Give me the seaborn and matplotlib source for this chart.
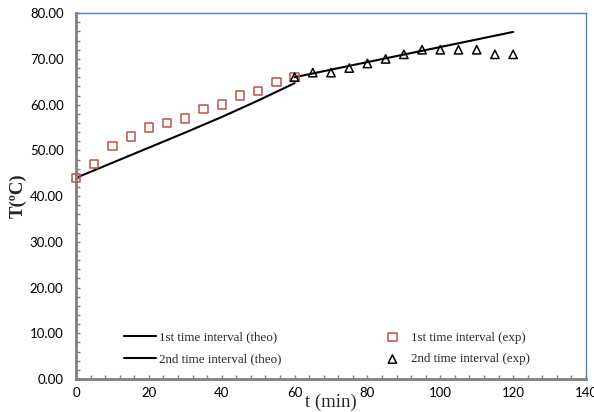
import matplotlib
matplotlib.use("Agg")
import matplotlib.pyplot as plt
import seaborn as sns
from matplotlib.ticker import MultipleLocator, FormatStrFormatter

# Experimental temperatures (°C) every 5 minutes
t_exp1 = [0, 5, 10, 15, 20, 25, 30, 35, 40, 45, 50, 55, 60]
T_exp1 = [44, 47, 51, 53, 55, 56, 57, 59, 60, 62, 63, 65, 66]
t_exp2 = [60, 65, 70, 75, 80, 85, 90, 95, 100, 105, 110, 115, 120]
T_exp2 = [66, 67, 67, 68, 69, 70, 71, 72, 72, 72, 72, 71, 71]

# Theoretical model curves
t_theo1 = [0, 10, 20, 30, 40, 50, 60]
T_theo1 = [44.0, 47.3, 50.6, 53.9, 57.3, 60.9, 64.7]
t_theo2 = [60, 80, 100, 120]
T_theo2 = [66.0, 69.3, 72.6, 75.9]

sns.set_theme(style="white")
plt.rcParams["font.family"] = ["Lato", "DejaVu Sans"]

fig = plt.figure(figsize=(5.94, 4.12), dpi=100)
ax = fig.add_axes([0.128, 0.080, 0.8585, 0.888])

sns.lineplot(x=t_theo1, y=T_theo1, ax=ax, color="black", lw=1.5,
             label="1st time interval (theo)")
sns.lineplot(x=t_theo2, y=T_theo2, ax=ax, color="black", lw=1.5,
             label="2nd time interval (theo)")
sns.scatterplot(x=t_exp1, y=T_exp1, ax=ax, marker="s", s=36,
                facecolor="none", edgecolor="#c0504d", linewidth=1.1,
                label="1st time interval (exp)", clip_on=False, zorder=3)
sns.scatterplot(x=t_exp2, y=T_exp2, ax=ax, marker="^", s=36,
                facecolor="none", edgecolor="black", linewidth=1.1,
                label="2nd time interval (exp)", clip_on=False, zorder=3)

ax.set_xlim(0, 140)
ax.set_ylim(0, 80)
ax.xaxis.set_major_locator(MultipleLocator(20))
ax.xaxis.set_minor_locator(MultipleLocator(4))
ax.yaxis.set_major_locator(MultipleLocator(10))
ax.yaxis.set_minor_locator(MultipleLocator(2))
ax.yaxis.set_major_formatter(FormatStrFormatter("%.2f"))

ax.tick_params(which="both", direction="in", color="#808080",
               bottom=True, left=True, top=False, right=False)
ax.tick_params(which="major", length=3, width=1, labelsize=9.5,
               labelcolor="black")
ax.tick_params(which="minor", length=3, width=1)
ax.tick_params(axis="y", which="major", pad=9)
ax.tick_params(axis="x", which="major", pad=6)

for side in ("left", "bottom"):
    ax.spines[side].set_color("#808080")
    ax.spines[side].set_linewidth(2)
for side in ("top", "right"):
    ax.spines[side].set_color("#4f81bd")
    ax.spines[side].set_linewidth(1)

ax.set_xlabel("t (min)", family="Liberation Serif", fontsize=13.5, labelpad=-4)
ax.set_ylabel("T(ºC)", family="Liberation Serif", fontsize=13.5,
              fontweight="bold", labelpad=2)

ax.legend(ncol=2, loc="lower left", bbox_to_anchor=(0.071, 0.005),
          frameon=False, prop={"family": "Liberation Serif", "size": 9.4},
          handlelength=2.45, handletextpad=0.2, columnspacing=7.3,
          labelspacing=0.75)

fig.savefig("out.png", dpi=100)
